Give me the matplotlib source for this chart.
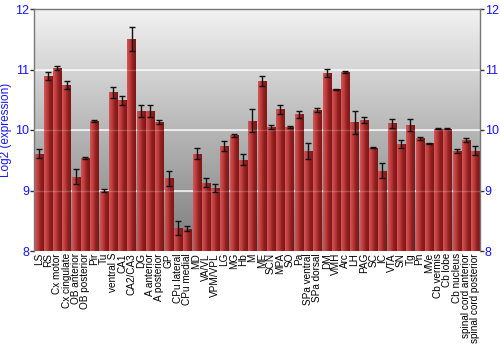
import numpy as np
import matplotlib
matplotlib.use("Agg")
import matplotlib.pyplot as plt
from matplotlib.colors import LinearSegmentedColormap

categories = ["LS", "RS", "Cx motor", "Cx cingulate", "OB anterior", "OB posterior", "Pir", "Tu",
              "ventral S", "CA1", "CA2/CA3", "DG", "A anterior", "A posterior", "GP", "CPu lateral",
              "CPu medial", "MD", "VA/VL", "VPM/VPL", "LG", "MG", "Hb", "M", "ME", "SCN", "MPA", "SO",
              "Pa", "SPa ventral", "SPa dorsal", "DM", "VMH", "Arc", "LH", "PAG", "SC", "IC", "VTA",
              "SN", "Tg", "Pn", "MVe", "Cb vermis", "Cb lobe", "Cb nucleus", "spinal cord anterior",
              "spinal cord posterior"]
values = [9.61, 10.89, 11.02, 10.74, 9.23, 9.54, 10.15, 9.00,
          10.62, 10.49, 11.51, 10.32, 10.32, 10.13, 9.20, 8.38,
          8.37, 9.61, 9.13, 9.04, 9.74, 9.91, 9.51, 10.15, 10.81, 10.05, 10.34, 10.05,
          10.26, 9.65, 10.33, 10.94, 10.67, 10.96, 10.13, 10.16, 9.71, 9.33, 10.11,
          9.77, 10.09, 9.86, 9.78, 10.02, 10.02, 9.65, 9.83, 9.66]
errors = [0.07, 0.07, 0.03, 0.07, 0.13, 0.02, 0.01, 0.02,
          0.09, 0.07, 0.20, 0.10, 0.10, 0.03, 0.12, 0.11,
          0.04, 0.09, 0.07, 0.07, 0.08, 0.02, 0.09, 0.19, 0.08, 0.03, 0.07, 0.01,
          0.06, 0.13, 0.03, 0.07, 0.01, 0.02, 0.19, 0.05, 0.01, 0.13, 0.08,
          0.06, 0.10, 0.02, 0.01, 0.01, 0.01, 0.03, 0.03, 0.08]
yticks = [8, 9, 10, 11, 12]

plt.rcParams['font.family'] = ['Liberation Sans', 'DejaVu Sans']

fig = plt.figure(figsize=(5, 3.5), dpi=100)
ax = fig.add_axes([34/500, 1 - 251/350, (480-34)/500, (251-9)/350])

n = len(categories)
x = np.arange(n)
ax.set_xlim(-0.5, n - 0.5)
ax.set_ylim(8, 12)

# background gradient
bg = LinearSegmentedColormap.from_list("bg", ["#7c7c7c", "#f2f2f2"])
grad = np.linspace(0, 1, 256).reshape(-1, 1)
ax.imshow(grad, cmap=bg, aspect='auto', extent=[0, 1, 0, 1], origin='lower',
          transform=ax.transAxes, zorder=0)

for yv in [9, 10, 11]:
    ax.axhline(yv, color='white', lw=1.2, alpha=0.85, zorder=1)

bars = ax.bar(x, np.array(values) - 8, bottom=8, width=0.88, color='#a83030',
              edgecolor='none', zorder=2)
barcm = LinearSegmentedColormap.from_list("bar", ["#d45656", "#bc3c3c", "#921f1f", "#7e1717"])
hgrad = np.linspace(0, 1, 64).reshape(1, -1)
for b in bars:
    bx, by = b.get_x(), b.get_y()
    w, h = b.get_width(), b.get_height()
    im = ax.imshow(hgrad, cmap=barcm, aspect='auto', extent=[bx, bx + w, by, by + h],
                   zorder=2.5)
    im.set_clip_path(b)

for yv in [9, 10, 11]:
    ax.axhline(yv, color='white', lw=1.0, alpha=0.2, zorder=3)

ax.errorbar(x, values, yerr=errors, fmt='none', ecolor='#111111', elinewidth=1.0,
            capsize=2.2, capthick=1.0, zorder=4)

ax.set_xlim(-0.5, n - 0.5)
ax.set_ylim(8, 12)
ax.set_xticks(x)
ax.set_xticklabels(categories, rotation=90, fontsize=7.2)
ax.tick_params(axis='x', length=0, pad=1.5)
ax.set_yticks(yticks)
ax.tick_params(axis='y', colors='#333333', labelcolor='#1515ff', labelsize=9,
               length=3, width=1, left=True, right=True, labelleft=True, labelright=True, pad=0.5)
ax.set_ylabel("Log2 (expression)", color='#1515ff', fontsize=8.5)
ax.yaxis.set_label_coords(-22/446, 0.5)

for s in ax.spines.values():
    s.set_color('#777777')
    s.set_linewidth(1)
ax.spines['bottom'].set_visible(False)

fig.savefig("out.png", dpi=100)
